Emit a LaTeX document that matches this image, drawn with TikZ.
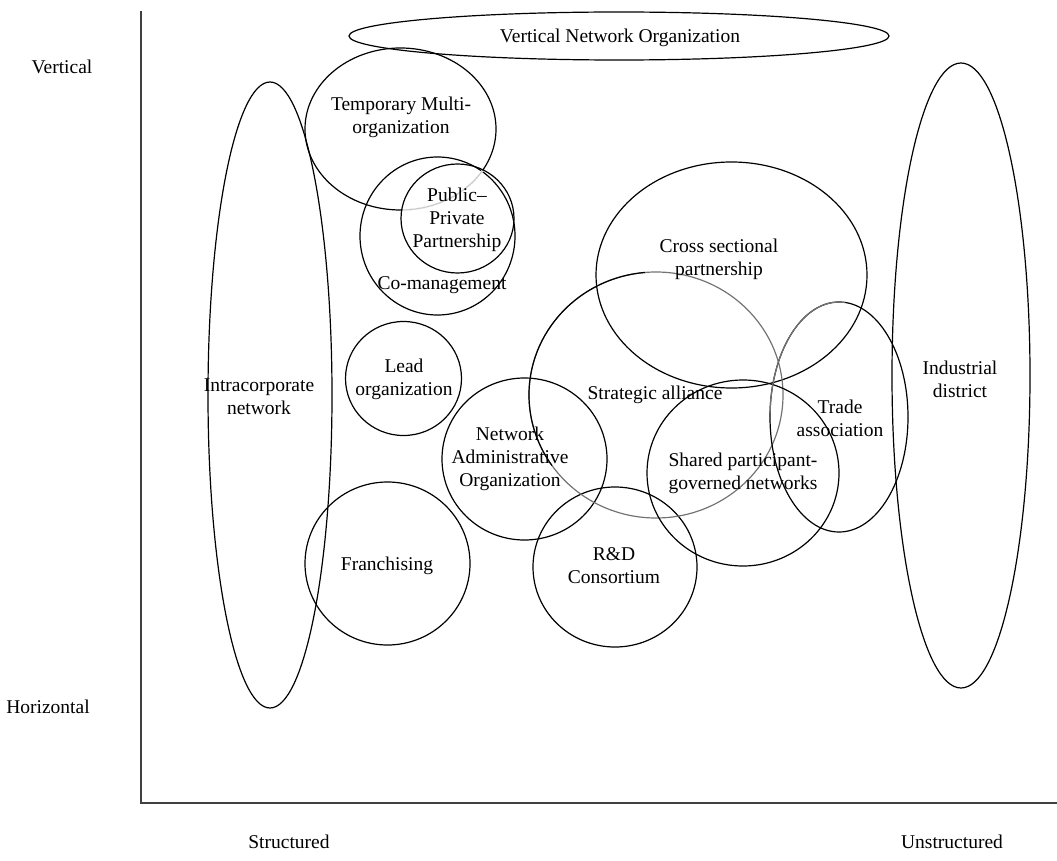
\documentclass[tikz,border=0pt]{standalone}
\usepackage{fontspec}
\setmainfont{Liberation Serif}
\begin{document}
\begin{tikzpicture}[x=1pt,y=-1pt,
  shp/.style={line width=1.2pt, draw=black},
  gshp/.style={line width=1.2pt, draw=black!55},
  lbl/.style={font=\fontsize{19.5}{23}\selectfont, align=center, inner sep=0pt, text=black},
  axis/.style={line width=2pt, draw=black!75}]
\useasboundingbox (0,0) rectangle (1057,861);

% axes
\coordinate (ytop) at (141,11);
\coordinate (orig) at (141,803);
\coordinate (xend) at (1057,803);
\draw[axis] (ytop) -- (orig) -- (xend);

% shapes
\draw[shp] (619,36) ellipse [x radius=270pt, y radius=24pt];
\draw[shp] (400.5,129) ellipse [x radius=95.5pt, y radius=81pt];
\draw[shp] (437.5,236) ellipse [x radius=77.5pt, y radius=79pt];
\draw[shp] (457.5,218.5) ellipse [x radius=56.5pt, y radius=54.5pt];
\begin{scope}
  \clip (457.5,218.5) ellipse [x radius=55.5pt, y radius=53.5pt];
  \draw[line width=2.2pt, white] (400.5,129) ellipse [x radius=95.5pt, y radius=81pt];
  \draw[line width=1.2pt, black!20] (400.5,129) ellipse [x radius=95.5pt, y radius=81pt];
\end{scope}
\draw[shp] (270,395) ellipse [x radius=62pt, y radius=313pt];
\draw[shp] (403.5,378.5) ellipse [x radius=58pt, y radius=57pt];
\draw[shp] (387.5,563.5) ellipse [x radius=82.5pt, y radius=81.5pt];
\draw[shp] (524.5,459) ellipse [x radius=82.5pt, y radius=81pt];
\draw[shp] (615,567) ellipse [x radius=82pt, y radius=80pt];
\draw[shp] (731.5,275) ellipse [x radius=135.5pt, y radius=113pt];
\draw[gshp] (656,395) ellipse [x radius=127pt, y radius=123pt];
\draw[shp] (656,395) ++(95:127pt and 123pt) arc[start angle=95, end angle=215, x radius=127pt, y radius=123pt];
\draw[shp] (743,473) ellipse [x radius=96pt, y radius=93pt];
\draw[shp] (839,417) ellipse [x radius=69pt, y radius=115pt];
\draw[line width=1.2pt, black!55] (839,417) ++(85:69pt and 115pt) arc[start angle=85, end angle=178, x radius=69pt, y radius=115pt];
\draw[shp] (961,375.5) ellipse [x radius=69pt, y radius=312.5pt];

% labels
\node[lbl] (vert) at (62,67) {Vertical};
\node[lbl] (horiz) at (48,707) {Horizontal};
\node[lbl] (struct) at (289,842) {Structured};
\node[lbl] (unstruct) at (952,842) {Unstructured};
\node[lbl] (vno) at (620,38) {Vertical Network Organization};
\node[lbl] (tmo) at (401,117) {Temporary Multi-\\organization};
\node[lbl] (ppp) at (457,220) {Public--\\Private\\Partnership};
\node[lbl] (comg) at (442,285) {Co-management};
\node[lbl] (intra) at (259,397) {Intracorporate\\network};
\node[lbl] (lead) at (404,379) {Lead\\organization};
\node[lbl] (nao) at (510,459) {Network\\Administrative\\Organization};
\node[lbl] (fran) at (387,566) {Franchising};
\node[lbl] (rd) at (614,566) {R\&D\\Consortium};
\node[lbl] (sa) at (655,395) {Strategic alliance};
\node[lbl] (csp) at (719,259) {Cross sectional\\partnership};
\node[lbl] (spg) at (743,473) {Shared participant-\\governed networks};
\node[lbl] (ta) at (840,418) {Trade\\association};
\node[lbl] (ind) at (960,379) {Industrial\\district};
\end{tikzpicture}
\end{document}
